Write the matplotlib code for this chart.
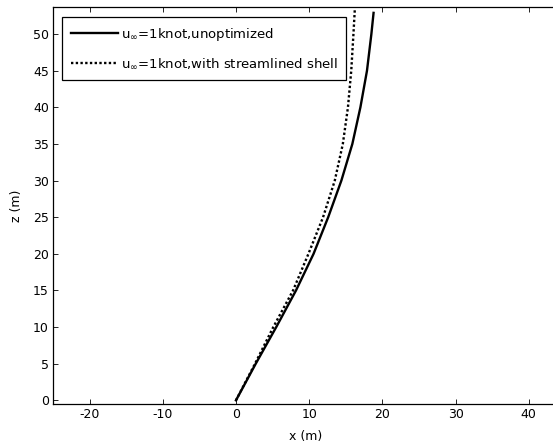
import matplotlib
matplotlib.use("Agg")
import matplotlib.pyplot as plt

plt.rcParams['font.family'] = ['DejaVu Sans']
plt.rcParams['mathtext.fontset'] = 'dejavusans'
plt.rcParams['axes.unicode_minus'] = False

# data
z_unopt = [0, 5, 10, 15, 20, 25, 30, 35, 40, 45, 50, 52.9]
x_unopt = [0, 2.7, 5.5, 8.2, 10.6, 12.6, 14.4, 15.9, 17.0, 17.9, 18.5, 18.8]
z_shell = [0, 5, 10, 15, 20, 25, 30, 35, 40, 45, 50, 54.5]
x_shell = [0, 2.6, 5.1, 7.8, 9.9, 11.9, 13.5, 14.6, 15.3, 15.75, 16.05, 16.3]

xticks = [-20, -10, 0, 10, 20, 30, 40]
yticks = [0, 5, 10, 15, 20, 25, 30, 35, 40, 45, 50]
labels = [r'u$_\infty$=1knot,unoptimized', r'u$_\infty$=1knot,with streamlined shell']

W, H = 553, 448
fig = plt.figure(figsize=(W/100, H/100), dpi=100)
left, right, top, bottom = 53, 558, 7, 404
ax = fig.add_axes([left/W, 1-bottom/H, (right-left)/W, (bottom-top)/H])

ax.plot(x_unopt, z_unopt, color='black', lw=1.7, ls='-', label=labels[0])
ax.plot(x_shell, z_shell, color='black', lw=1.7, ls=(0, (1, 1)), label=labels[1])

ax.set_xlim(-25, 44)
ax.set_ylim(-0.5, 53.7)
ax.set_xticks(xticks)
ax.set_yticks(yticks)
ax.tick_params(direction='in', top=True, right=True, length=3.5, width=0.6,
               labelsize=9, pad=3)
for s in ax.spines.values():
    s.set_linewidth(0.9)
ax.set_xlabel('x (m)', fontsize=9, labelpad=6)
ax.set_ylabel('z (m)', fontsize=9, labelpad=7)

leg = ax.legend(loc='upper left', bbox_to_anchor=(62/W, 1-17/H),
                bbox_transform=fig.transFigure, fontsize=9.5, frameon=True,
                fancybox=False, edgecolor='black', framealpha=1,
                handlelength=3.56, handletextpad=0.25, borderaxespad=0,
                borderpad=0.65, labelspacing=1.1)
leg.get_frame().set_linewidth(0.9)

fig.savefig('out.png', dpi=100)
